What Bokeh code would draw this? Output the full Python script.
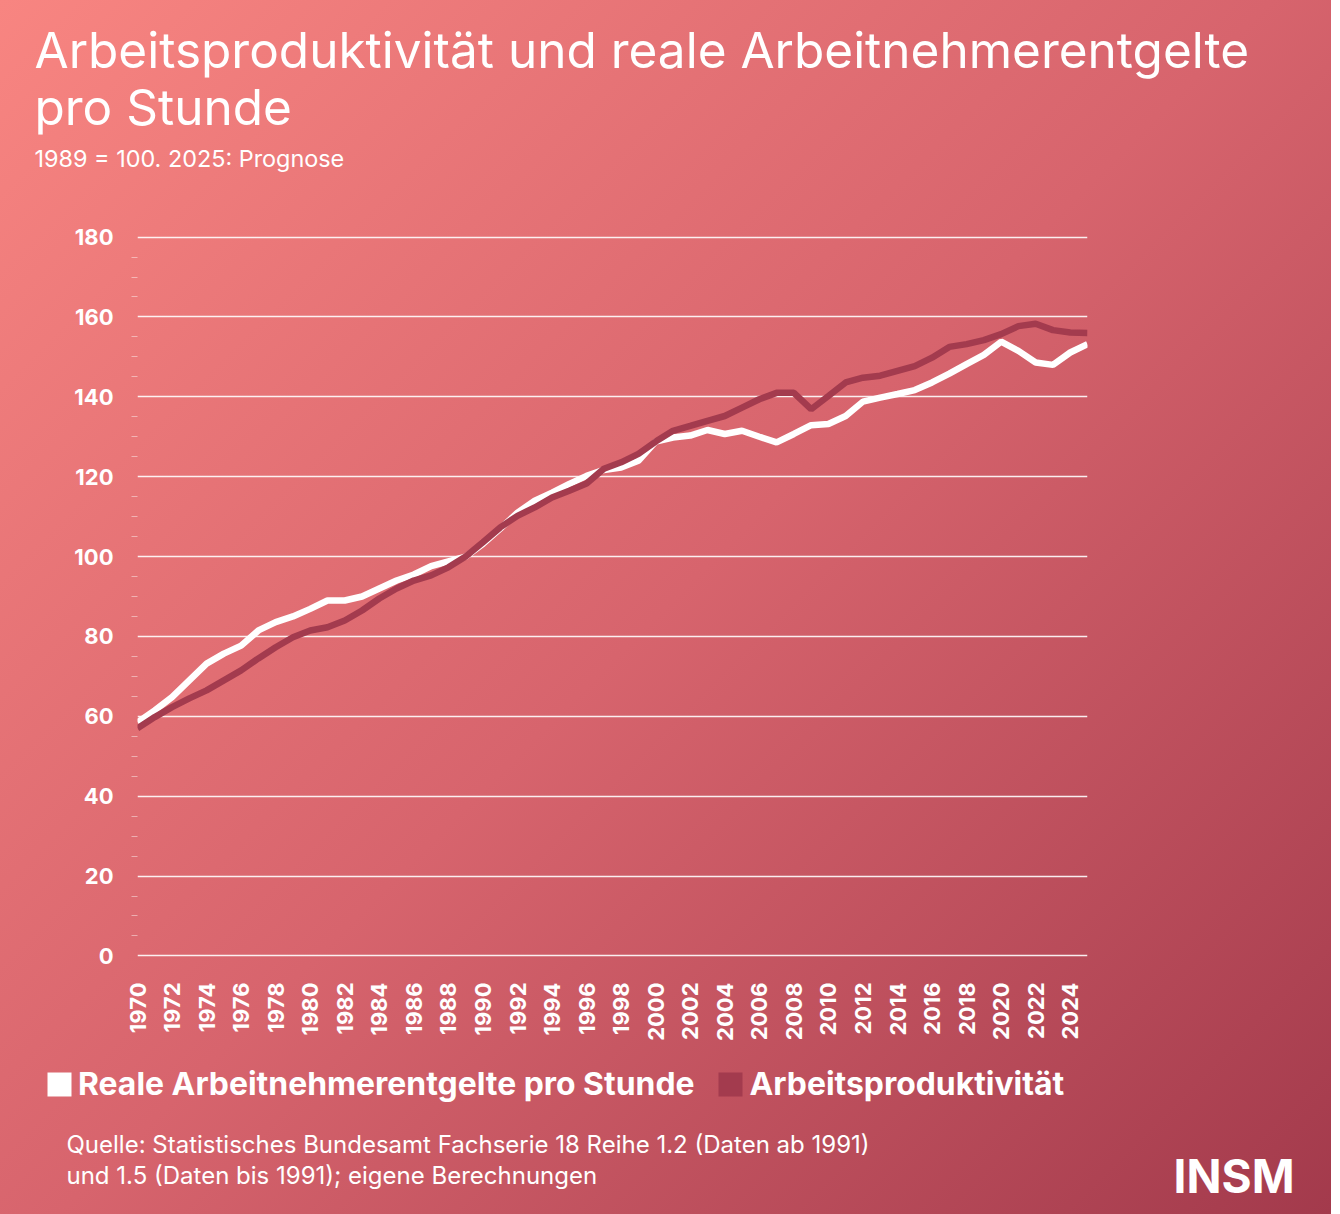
import math
from bokeh.plotting import figure
from bokeh.layouts import column
from bokeh.models import (Range1d, FixedTicker, Label, Legend, LegendItem, ColumnDataSource)
from bokeh.embed import file_html
from bokeh.resources import INLINE

# ---- data ----
years = list(range(1970, 2026))
wages = [58.5, 61.5, 64.8, 69.0, 73.2, 75.7, 77.7, 81.5, 83.6, 85.0,
         86.9, 89.0, 89.0, 90.0, 92.0, 94.0, 95.5, 97.6, 98.8, 100.0,
         103.2, 107.0, 111.0, 114.0, 116.0, 118.2, 120.2, 121.7, 122.3, 124.0,
         128.8, 129.8, 130.3, 131.7, 130.7, 131.5, 130.0, 128.6, 130.7, 132.9,
         133.2, 135.2, 138.8, 139.8, 140.7, 141.7, 143.6, 145.8, 148.2, 150.5,
         153.8, 151.5, 148.6, 148.0, 151.1, 153.2]
productivity = [57.0, 59.8, 62.3, 64.5, 66.5, 69.0, 71.5, 74.5, 77.3, 79.8,
                81.5, 82.3, 84.0, 86.5, 89.5, 92.0, 94.0, 95.3, 97.3, 100.0,
                103.6, 107.3, 110.2, 112.3, 114.8, 116.5, 118.3, 122.0, 123.6, 125.7,
                128.8, 131.5, 132.7, 134.0, 135.2, 137.3, 139.4, 141.0, 141.0, 136.9,
                140.2, 143.6, 144.8, 145.3, 146.5, 147.7, 149.8, 152.5, 153.2, 154.2,
                155.7, 157.7, 158.3, 156.7, 156.1, 156.0]
series_names = ["Reale Arbeitnehmerentgelte pro Stunde", "Arbeitsproduktivität"]
series_colors = ["#FFFFFF", "#A33B4E"]
y_ticks = list(range(0, 181, 20))
y_minor = [v for v in range(0, 181, 5) if v % 20 != 0]
x_ticks = list(range(1970, 2025, 2))

title_lines = ["Arbeitsproduktivität und reale Arbeitnehmerentgelte", "pro Stunde"]
subtitle = "1989 = 100. 2025: Prognose"
source_lines = ["Quelle: Statistisches Bundesamt Fachserie 18 Reihe 1.2 (Daten ab 1991)",
                "und 1.5 (Daten bis 1991); eigene Berechnungen"]
brand = "INSM"

FONT = "Inter"
W = 1331
HEAD_H = 200
MAIN_H = 850
FOOT_H = 1214 - HEAD_H - MAIN_H
NAN = float("nan")


def blank_fig(height, y0, y1):
    f = figure(width=W, height=height, output_backend="svg", toolbar_location=None,
               x_range=Range1d(0, W), y_range=Range1d(y1, y0),
               min_border=0, x_axis_location=None, y_axis_location=None)
    f.grid.visible = False
    f.outline_line_color = None
    f.background_fill_alpha = 0
    f.border_fill_alpha = 0
    f.frame_align = False
    return f


def add_label(f, text, x, y, size, style="normal", align="left"):
    f.add_layout(Label(x=x, y=y, text=text, text_font=FONT, text_font_size=size,
                       text_font_style=style, text_color="#FFFFFF",
                       text_align=align, text_baseline="alphabetic"))


# ---- header ----
head = blank_fig(HEAD_H, 0, HEAD_H)
add_label(head, title_lines[0], 34, 49, "49.5px")
add_label(head, title_lines[1], 34, 106, "49.5px")
add_label(head, subtitle, 34, 158, "23.4px")

# ---- main chart ----
p = figure(width=W, height=MAIN_H, output_backend="svg", toolbar_location=None,
           x_range=Range1d(1970, 2025), y_range=Range1d(-0.4, 180.4),
           min_border_left=137, min_border_right=W - 1087, min_border_top=35,
           min_border_bottom=MAIN_H - 757)
p.frame_align = False
p.title.text = ""
p.background_fill_alpha = 0
p.border_fill_alpha = 0
p.outline_line_color = None

p.xgrid.grid_line_color = None
p.ygrid.grid_line_color = "#FFFFFF"
p.ygrid.grid_line_width = 1.5
p.ygrid.grid_line_alpha = 0.9

ya = p.yaxis[0]
ya.ticker = FixedTicker(ticks=y_ticks, minor_ticks=y_minor)
ya.axis_line_color = None
ya.major_tick_line_color = None
ya.major_tick_out = 0
ya.major_tick_in = 0
ya.minor_tick_out = 6
ya.minor_tick_in = 0
ya.minor_tick_line_color = "#FFFFFF"
ya.minor_tick_line_alpha = 0.45
ya.major_label_standoff = 18
ya.major_label_text_font = FONT
ya.major_label_text_font_style = "bold"
ya.major_label_text_font_size = "22px"
ya.major_label_text_color = "#FFFFFF"

xa = p.xaxis[0]
xa.ticker = FixedTicker(ticks=x_ticks)
xa.axis_line_color = None
xa.major_tick_line_color = None
xa.major_tick_out = 0
xa.major_tick_in = 0
xa.minor_tick_line_color = None
xa.major_label_orientation = math.pi / 2
xa.major_label_standoff = 25
xa.major_label_text_font = FONT
xa.major_label_text_font_style = "bold"
xa.major_label_text_font_size = "22px"
xa.major_label_text_color = "#FFFFFF"

src = ColumnDataSource(dict(year=years, wages=wages, prod=productivity))
p.line("year", "wages", source=src, line_color=series_colors[0], line_width=6.5)
p.line("year", "prod", source=src, line_color=series_colors[1], line_width=6.5)

# ---- footer: legend, source, brand ----
foot = blank_fig(FOOT_H, HEAD_H + MAIN_H, 1214)
sw1 = foot.quad(left=[NAN], right=[NAN], top=[NAN], bottom=[NAN],
                fill_color=series_colors[0], line_color=None)
sw2 = foot.quad(left=[NAN], right=[NAN], top=[NAN], bottom=[NAN],
                fill_color=series_colors[1], line_color=None)
legend = Legend(items=[LegendItem(label=series_names[0], renderers=[sw1]),
                       LegendItem(label=series_names[1], renderers=[sw2])],
                orientation="horizontal", location=(44, 1214 - 1103),
                glyph_width=30, glyph_height=30, label_height=30,
                label_standoff=4, spacing=21, padding=0, margin=0,
                border_line_color=None, background_fill_alpha=0,
                label_text_font=FONT, label_text_font_style="bold",
                label_text_font_size="31.9px", label_text_color="#FFFFFF")
foot.add_layout(legend, "center")
add_label(foot, source_lines[0], 66, 1144, "24px")
add_label(foot, source_lines[1], 66, 1175, "24px")
add_label(foot, brand, 1294, 1175, "46px", style="bold", align="right")

layout = column(head, p, foot, spacing=0)
layout.styles = {"background": "linear-gradient(135deg, #F88581 0%, #D7646D 50%, #A33A4C 100%)"}

open("out.html", "w").write(file_html(layout, INLINE))
